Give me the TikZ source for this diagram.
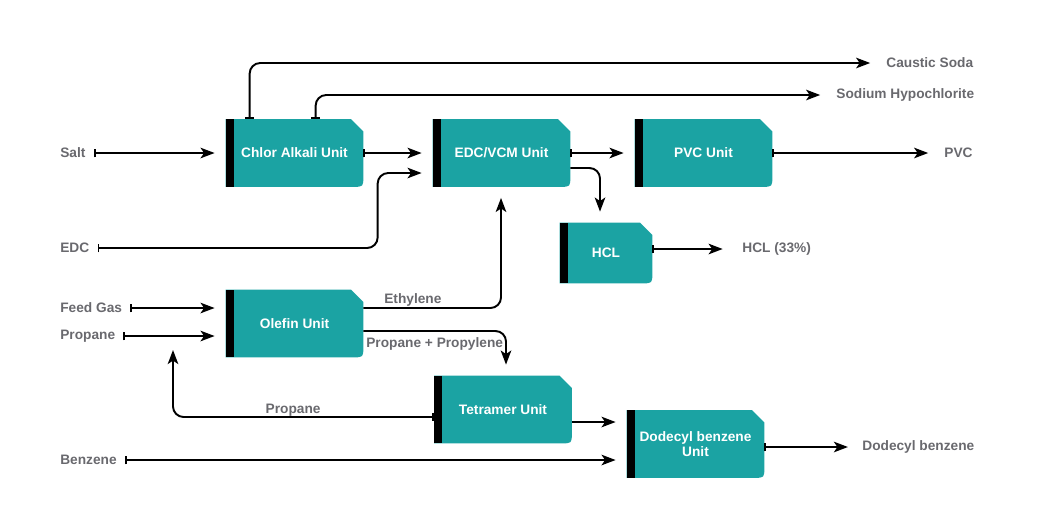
\documentclass[tikz,border=0pt]{standalone}
\usepackage{fontspec}
\setmainfont{Liberation Sans}
\usepackage{xcolor}
\usepackage{tikz}
\usetikzlibrary{positioning,calc,arrows.meta,backgrounds}

\definecolor{unitteal}{RGB}{27,163,163}
\definecolor{streamgray}{RGB}{105,105,110}

% teal unit box: cut top right corner, round bottom right corner, black bar on the left
\newcommand{\unitshape}[1]{%
  \fill[unitteal] (#1.south west) -- (#1.north west) -- ([xshift=-7pt]#1.north east)
    -- ([yshift=-7pt]#1.north east) -- ([yshift=6pt]#1.south east)
    .. controls (#1.south east) .. ([xshift=-6pt]#1.south east) -- cycle;
  \fill[black] (#1.south west) rectangle ([xshift=4.6pt]#1.north west);
}

\begin{document}
\begin{tikzpicture}[x=0.02cm, y=-0.02cm,
    font=\fontsize{7.8}{8.6}\selectfont\bfseries,
    >={Stealth[length=8pt, width=6pt, inset=2pt]},
    unit/.style={rectangle, minimum width=2.74cm, minimum height=1.34cm,
      inner sep=0pt, text=white, align=center},
    stream/.style={text=streamgray, inner sep=0pt},
    flow/.style={line width=1.1pt, ->, rounded corners=6pt, shorten >=6.3pt},
    tapped/.style={flow, {Bar[width=5pt]}->},
    feedline/.style={tapped, shorten <=4.5pt}]
    \useasboundingbox (0,0) rectangle (1040,515);

    % units
    \node[unit] (chlor) at (294.5,153) {Chlor Alkali Unit};
    \node[unit] (edcvcm) at (501.5,153) {EDC/VCM Unit};
    \node[unit] (pvc) at (703.5,153) {PVC Unit};
    \node[unit, minimum width=1.84cm, minimum height=1.2cm] (hcl) at (606,253) {HCL};
    \node[unit] (olefin) at (294.5,323.5) {Olefin Unit};
    \node[unit] (tetramer) at (503,409.5) {Tetramer Unit};
    \node[unit] (dodecyl) at (695.5,444) {Dodecyl benzene\\Unit};

    \begin{scope}[on background layer]
        \foreach \u in {chlor,edcvcm,pvc,hcl,olefin,tetramer,dodecyl} {\unitshape{\u}}
    \end{scope}

    % feeds
    \node[stream, anchor=west] (salt) at (60,153) {Salt};
    \node[stream, anchor=west] (edcin) at (60,248) {EDC};
    \node[stream, anchor=west] (feedgas) at (60,308) {Feed Gas};
    \node[stream, anchor=west] (propane) at (60,336) {Propane};
    \node[stream, anchor=west] (benzene) at (60,460) {Benzene};

    % products
    \node[stream, anchor=west] (caustic) at (886,63) {Caustic Soda};
    \node[stream, anchor=west] (sodium) at (836,95) {Sodium Hypochlorite};
    \node[stream, anchor=west] (pvcout) at (944,153) {PVC};
    \node[stream, anchor=west] (hclout) at (742,249) {HCL (33\%)};
    \node[stream, anchor=west] (dodout) at (862,447) {Dodecyl benzene};

    \coordinate (propret) at (173,350);
    \coordinate (tetout) at ($(tetramer.east)+(0,12.5)$);

    % streams
    \draw[feedline] (salt.east) -- (salt.east -| chlor.west);
    \draw[tapped] (chlor.east) -- (edcvcm.west);
    \draw[tapped, shorten >=9pt] ($(chlor.north west)+(24,0)$) |- (caustic.west);
    \draw[tapped, shorten >=9pt] ($(chlor.north west)+(90,0)$) |- (sodium.west);
    \draw[feedline] (edcin.east) -| ($(edcvcm.west)+(-55,20)$) -- ($(edcvcm.west)+(0,20)$);
    \draw[tapped] (edcvcm.east) -- (pvc.west);
    \draw[flow] ($(edcvcm.east)+(0,15)$) -| ($(hcl.north)+(-6,0)$);
    \draw[tapped, shorten >=9pt] (pvc.east) -- (pvc.east -| pvcout.west);
    \draw[tapped, shorten >=11pt] (hclout.west -| hcl.east) -- (hclout.west);
    \draw[feedline] (feedgas.east) -- (feedgas.east -| olefin.west);
    \draw[feedline] (propane.east) -- (propane.east -| olefin.west);
    \draw[flow] ($(olefin.east)+(0,-15.5)$) -| ($(edcvcm.south)+(-0.5,0)$)
        node[stream, pos=0.18, above=0.4pt] {Ethylene};
    \draw[flow] ($(olefin.east)+(0,7.5)$) -| ($(tetramer.north)+(3,0)$)
        node[stream, pos=0.25, below=3pt] {Propane + Propylene};
    \draw[tapped, shorten >=0pt] ($(tetramer.west)+(0,7.5)$) -| (propret)
        node[stream, pos=0.27, above=0pt] {Propane};
    \draw[flow] (tetout) -- (tetout -| dodecyl.west);
    \draw[feedline] (benzene.east) -- (benzene.east -| dodecyl.west);
    \draw[tapped, shorten >=8pt] (dodout.west -| dodecyl.east) -- (dodout.west);
\end{tikzpicture}
\end{document}
